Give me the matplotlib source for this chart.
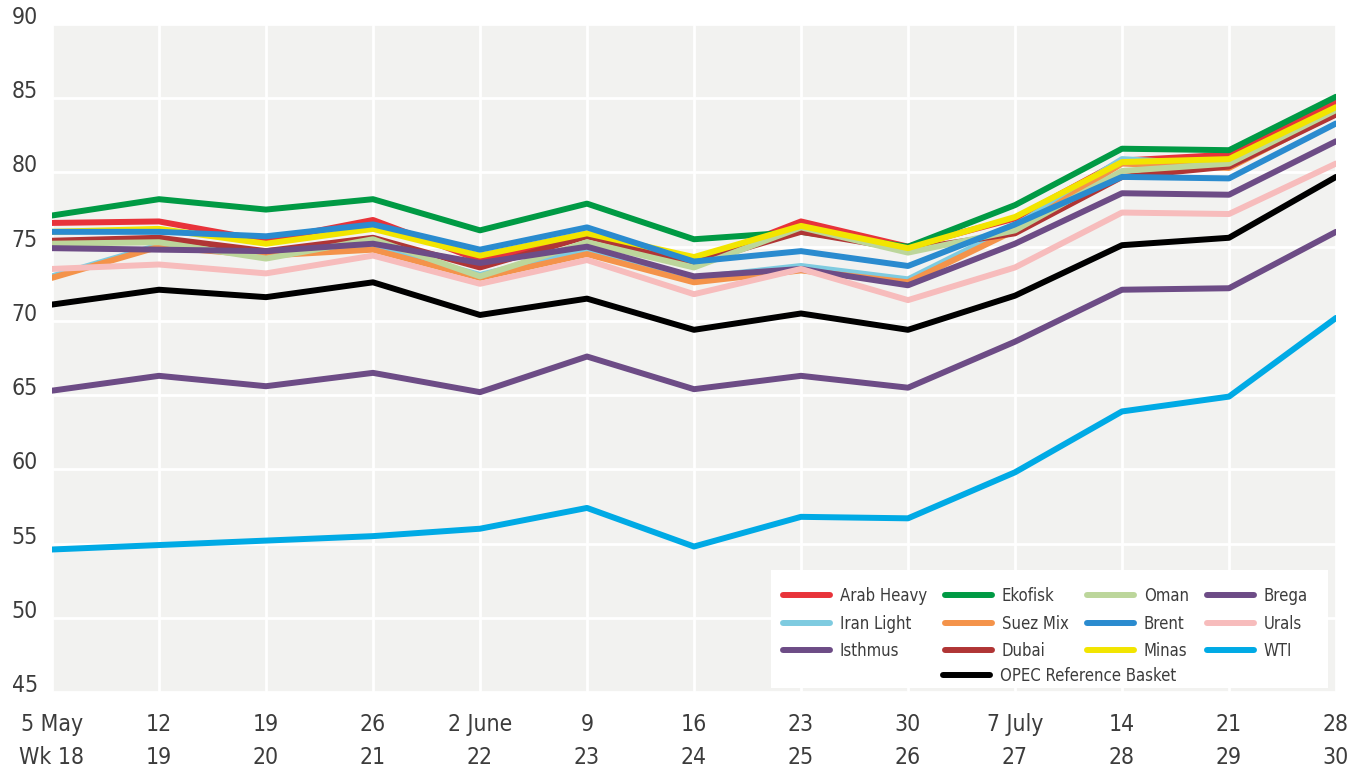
import matplotlib
matplotlib.use("Agg")
import matplotlib.pyplot as plt
from matplotlib.patches import Rectangle

plt.rcParams['font.family'] = ['DejaVu Sans']
plt.rcParams['font.stretch'] = 'condensed'

# Uke-etiketter
dates = ["5 May", "12", "19", "26", "2 June", "9", "16", "23", "30", "7 July", "14", "21", "28"]
weeks = ["Wk 18", "19", "20", "21", "22", "23", "24", "25", "26", "27", "28", "29", "30"]

arab_heavy = [76.6, 76.7, 75.4, 76.8, 74.1, 75.8, 73.9, 76.7, 75.0, 76.9, 80.8, 81.2, 84.7]
iran_light = [73.0, 75.1, 74.6, 75.0, 73.1, 74.8, 72.9, 73.7, 72.8, 76.4, 80.9, 80.5, 84.1]
isthmus = [65.3, 66.3, 65.6, 66.5, 65.2, 67.6, 65.4, 66.3, 65.5, 68.6, 72.1, 72.2, 76.0]
ekofisk = [77.1, 78.2, 77.5, 78.2, 76.1, 77.9, 75.5, 76.0, 75.0, 77.8, 81.6, 81.5, 85.1]
suez_mix = [72.9, 75.0, 74.4, 74.8, 72.9, 74.5, 72.6, 73.4, 72.6, 76.1, 80.6, 80.3, 84.0]
dubai = [75.4, 75.6, 74.7, 75.6, 73.6, 75.7, 73.9, 76.0, 74.8, 75.9, 79.7, 80.4, 83.9]
oman = [75.2, 75.3, 74.2, 75.5, 73.0, 75.3, 73.6, 76.3, 74.6, 76.1, 80.1, 80.6, 84.2]
minas = [76.0, 76.2, 75.2, 76.2, 74.4, 75.9, 74.3, 76.4, 74.9, 77.0, 80.7, 80.9, 84.4]
brent = [76.0, 76.0, 75.7, 76.5, 74.8, 76.3, 74.0, 74.7, 73.7, 76.5, 79.7, 79.6, 83.3]
brega = [74.9, 74.8, 74.7, 75.2, 73.9, 75.0, 73.0, 73.5, 72.4, 75.2, 78.6, 78.5, 82.1]
urals = [73.5, 73.8, 73.2, 74.4, 72.5, 74.1, 71.8, 73.5, 71.4, 73.6, 77.3, 77.2, 80.6]
wti = [54.6, 54.9, 55.2, 55.5, 56.0, 57.4, 54.8, 56.8, 56.7, 59.8, 63.9, 64.9, 70.2]
opec = [71.1, 72.1, 71.6, 72.6, 70.4, 71.5, 69.4, 70.5, 69.4, 71.7, 75.1, 75.6, 79.7]

# (navn, verdier, farge) i tegnerekkefølge
serier = [
    ("Arab Heavy", arab_heavy, "#e8333a"),
    ("Iran Light", iran_light, "#7ecbe0"),
    ("Isthmus", isthmus, "#6d4c86"),
    ("Ekofisk", ekofisk, "#009a44"),
    ("Suez Mix", suez_mix, "#f4934a"),
    ("Dubai", dubai, "#b03535"),
    ("Oman", oman, "#bcd69b"),
    ("Minas", minas, "#f2e500"),
    ("Brent", brent, "#2a8bcf"),
    ("Brega", brega, "#6d4c86"),
    ("Urals", urals, "#f7bcbc"),
    ("WTI", wti, "#00aae5"),
    ("OPEC Reference Basket", opec, "#000000"),
]

tekst = "#3c3c3c"

fig = plt.figure(figsize=(13.68, 7.70), dpi=100)
ax = fig.add_axes([0.038, 0.1013, 0.9386, 0.8675])
ax.set_facecolor("#f2f2f0")

x = list(range(len(dates)))
linjer = {}
for navn, verdier, farge in serier:
    (l,) = ax.plot(x, verdier, color=farge, lw=4.3, solid_capstyle='round', zorder=3)
    linjer[navn] = l

ax.set_xlim(0, len(dates) - 1)
ax.set_ylim(45, 90)
ax.set_xticks(x)
ax.set_xticklabels([f"{d}\n{w}" for d, w in zip(dates, weeks)], linespacing=1.55)
ax.set_yticks(range(45, 91, 5))
ax.set_yticklabels([str(v) for v in range(45, 91, 5)], ha='left', va='baseline')
ax.tick_params(axis='x', length=0, pad=15, labelsize=16.5, labelcolor=tekst)
ax.tick_params(axis='y', length=0, pad=29, labelsize=16.5, labelcolor=tekst)
ax.grid(True, color="white", lw=2)
ax.set_axisbelow(True)
for s in ax.spines.values():
    s.set_visible(False)

# hvit bakgrunn for legenden
ax.add_patch(Rectangle((0.56, 0.006), 0.434, 0.177, transform=ax.transAxes,
                       facecolor="white", edgecolor="none", zorder=4))

# Legende: 4 kolonner, OPEC på egen rad under kolonne 2
rekkefolge = [
    "Arab Heavy", "Iran Light", "Isthmus",
    "Ekofisk", "Suez Mix", "Dubai",
    "Oman", "Brent", "Minas",
    "Brega", "Urals", "WTI",
]
leg = ax.legend([linjer[n] for n in rekkefolge], rekkefolge, ncol=4,
                loc='center left', bbox_to_anchor=(0.5693, 0.1025), frameon=False,
                fontsize=12, handlelength=2.8, handletextpad=0.6, columnspacing=1.1,
                labelspacing=0.57, borderpad=0, borderaxespad=0, labelcolor=tekst)
leg.set_zorder(5)
ax.add_artist(leg)

leg2 = ax.legend([linjer["OPEC Reference Basket"]], ["OPEC Reference Basket"],
                 loc='center left', bbox_to_anchor=(0.694, 0.024), frameon=False,
                 fontsize=12, handlelength=2.8, handletextpad=0.6,
                 borderpad=0, borderaxespad=0, labelcolor=tekst)
leg2.set_zorder(6)

fig.savefig("out.png", dpi=100)
